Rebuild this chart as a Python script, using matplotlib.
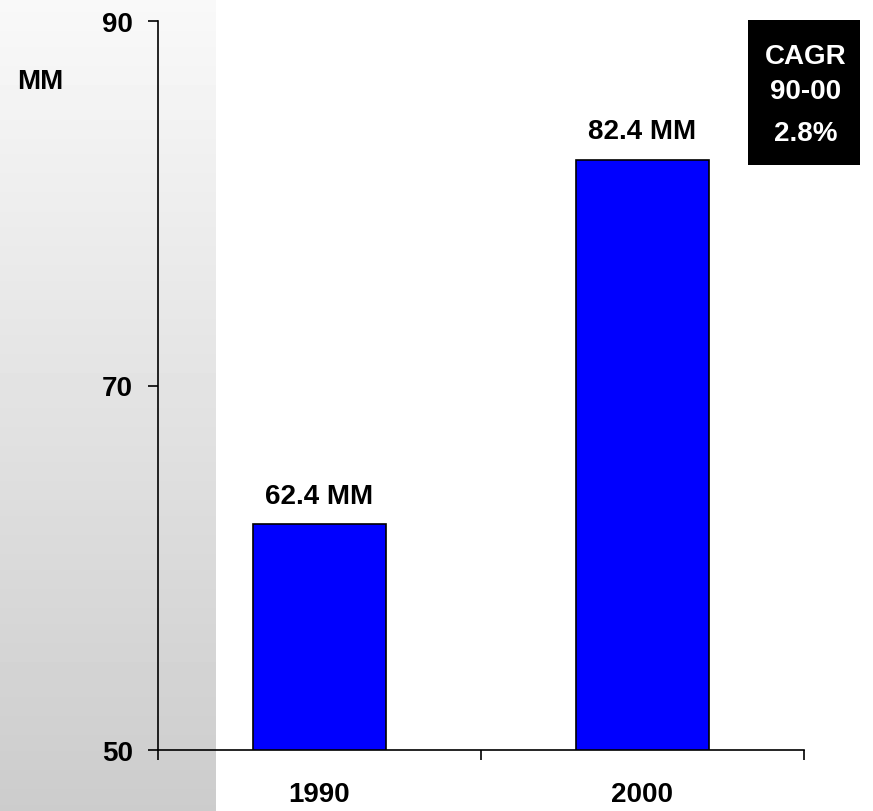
import matplotlib
matplotlib.use("Agg")
import matplotlib.pyplot as plt
import numpy as np

years = ["1990", "2000"]
values = [62.4, 82.4]
value_labels = ["62.4 MM", "82.4 MM"]
y_ticks = [50, 70, 90]
unit_label = "MM"
cagr_lines = ["CAGR", "90-00", "2.8%"]

plt.rcParams['font.family'] = ['Liberation Sans', 'DejaVu Sans']
plt.rcParams['font.weight'] = 'bold'

W, H = 873, 812
fig = plt.figure(figsize=(W/100, H/100), dpi=100)

# gradient panel on the left
bg = fig.add_axes([0, 0, 216/W, 1], zorder=0)
grad = np.linspace(0.975, 0.80, 256).reshape(-1, 1)
bg.imshow(grad, aspect='auto', cmap='gray', vmin=0, vmax=1, extent=[0, 1, 0, 1], origin='upper')
bg.set_axis_off()

ax = fig.add_axes([158/W, 1-751/H, (804-158)/W, (751-22)/H], zorder=1)
ax.patch.set_alpha(0)
x = np.arange(len(years))
ax.bar(x, values, width=0.41, bottom=0, color='#0000FF', edgecolor='black', linewidth=1.2)
ax.set_ylim(50, 90)
ax.set_xlim(-0.5, 1.5)
ax.set_yticks(y_ticks)
ax.set_yticklabels([str(t) for t in y_ticks], fontsize=20, fontweight='bold')
ax.set_xticks([-0.5, 0.5, 1.5])
ax.set_xticklabels([])
ax.tick_params(axis='y', length=7.2, width=1.2, pad=11)
ax.tick_params(axis='x', length=7.2, width=1.2, direction='out')
for s in ['top', 'right']:
    ax.spines[s].set_visible(False)
for s in ['left', 'bottom']:
    ax.spines[s].set_linewidth(1.2)

for xi, yr in zip(x, years):
    ax.annotate(yr, xy=(xi, 50), xytext=(0, -32), textcoords='offset points',
                ha='center', va='center', fontsize=20, fontweight='bold')
for xi, v, lab in zip(x, values, value_labels):
    ax.annotate(lab, xy=(xi, v), xytext=(0, 11), textcoords='offset points',
                ha='center', va='bottom', fontsize=20, fontweight='bold')

fig.text(40/W, 1-82/H, unit_label, ha='center', va='center', fontsize=20, fontweight='bold')

# CAGR box
box = fig.add_axes([748/W, 1-166/H, (860-748)/W, (166-21)/H], zorder=2)
box.set_facecolor('black')
box.set_xticks([]); box.set_yticks([])
for s in box.spines.values():
    s.set_visible(False)
for txt, yy in zip(cagr_lines, [57, 92, 134]):
    fig.text(806/W, 1-yy/H, txt, ha='center', va='center', color='white',
             fontsize=20, fontweight='bold', zorder=3)

fig.savefig("out.png", dpi=100)
